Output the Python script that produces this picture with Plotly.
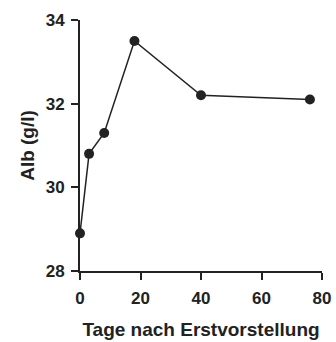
import plotly.graph_objects as go

days = [0, 3, 8, 18, 40, 76]
alb = [28.9, 30.8, 31.3, 33.5, 32.2, 32.1]
x_ticks = [0, 20, 40, 60, 80]
y_ticks = [28, 30, 32, 34]

fig = go.Figure()
fig.add_trace(go.Scatter(
    x=days, y=alb, mode="lines+markers",
    line=dict(color="#222222", width=1.5),
    marker=dict(color="#222222", size=10),
    cliponaxis=False, showlegend=False,
))

font = dict(family="Liberation Sans, Arial, sans-serif", size=17, color="#222222")
fig.update_layout(
    width=336, height=342,
    margin=dict(l=80, r=14, t=20, b=71),
    plot_bgcolor="white", paper_bgcolor="white",
    font=font,
    xaxis=dict(
        range=[0, 80], tickvals=x_ticks, ticktext=[f"<b>{v}</b>" for v in x_ticks],
        showline=True, linecolor="#222222", linewidth=2,
        ticks="outside", ticklen=7, tickwidth=2, tickcolor="#222222",
        ticklabelstandoff=4, ticklabeloverflow="allow",
        showgrid=False, zeroline=False, automargin=False,
        title=dict(text="<b>Tage nach Erstvorstellung</b>", font=dict(size=19), standoff=15),
    ),
    yaxis=dict(
        range=[28, 34], tickvals=y_ticks, ticktext=[f"<b>{v}</b>" for v in y_ticks],
        showline=True, linecolor="#222222", linewidth=2,
        ticks="outside", ticklen=7, tickwidth=2, tickcolor="#222222",
        ticklabelstandoff=3,
        showgrid=False, zeroline=False, automargin=False,
        title=dict(text="<b>Alb (g/l)</b>", font=dict(size=19), standoff=6),
    ),
)

fig.write_html(
    "out.html",
    config={"displayModeBar": False},
    post_script="document.body.style.margin='0';document.body.style.overflow='hidden';",
)
